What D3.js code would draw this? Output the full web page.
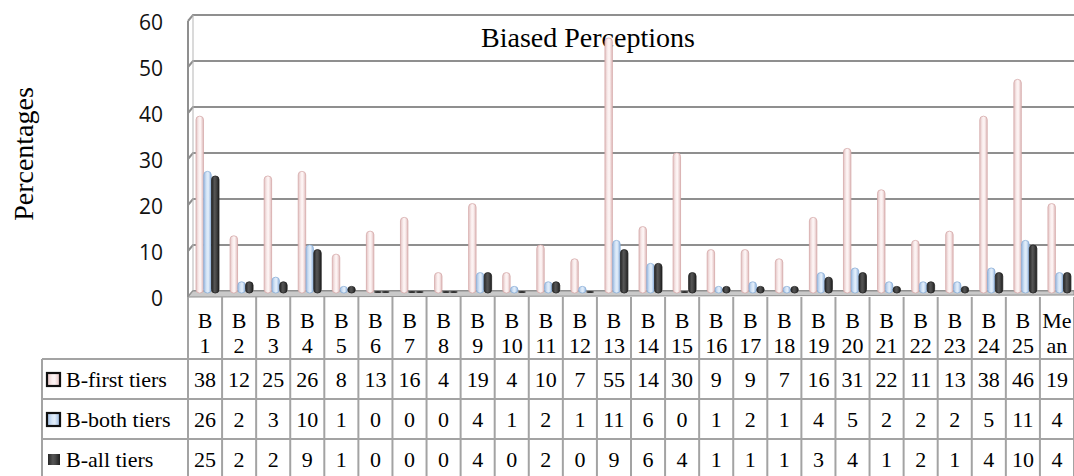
<!DOCTYPE html>
<html>
<head>
<meta charset="utf-8">
<script src="https://cdn.jsdelivr.net/npm/d3@7"></script>
<style>
  body { margin: 0; background: #fff; }
  svg { display: block; }
</style>
</head>
<body>
<svg id="chart"></svg>
<script>
// Biased perceptions - 3D-ish clustered columns with data table underneath

const width = 1074;
const height = 476;

// data
const categories = ["B1","B2","B3","B4","B5","B6","B7","B8","B9","B10","B11","B12","B13",
  "B14","B15","B16","B17","B18","B19","B20","B21","B22","B23","B24","B25","Mean"];
const headerLines = [["B","1"],["B","2"],["B","3"],["B","4"],["B","5"],["B","6"],["B","7"],["B","8"],
  ["B","9"],["B","10"],["B","11"],["B","12"],["B","13"],["B","14"],["B","15"],["B","16"],["B","17"],
  ["B","18"],["B","19"],["B","20"],["B","21"],["B","22"],["B","23"],["B","24"],["B","25"],["Me","an"]];
const seriesNames = ["B-first tiers", "B-both tiers", "B-all tiers"];
const firstTiers = [38,12,25,26,8,13,16,4,19,4,10,7,55,14,30,9,9,7,16,31,22,11,13,38,46,19];
const bothTiers  = [26,2,3,10,1,0,0,0,4,1,2,1,11,6,0,1,2,1,4,5,2,2,2,5,11,4];
const allTiers   = [25,2,2,9,1,0,0,0,4,0,2,0,9,6,4,1,1,1,3,4,1,2,1,4,10,4];
const yTicks = [0,10,20,30,40,50,60];
const series = [firstTiers, bothTiers, allTiers];

const svg = d3.select("#chart")
    .attr("width", width)
    .attr("height", height);

const plotLeft = 188;
const plotRight = 1074;
const depthX = 5, depthY = 6;   // fake 3D offset of the back wall

const x = d3.scaleBand().domain(categories).range([plotLeft, plotRight]);
const xSub = d3.scaleBand().domain(seriesNames).range([8, 31]).paddingInner(0.04);
const y = d3.scaleLinear().domain([0, 60]).range([291, 15]);

const gridColor = "#8f8f8f";
const tableColor = "#a3a3a3";

// gradients for the cylinder-ish bars
const defs = svg.append("defs");
const barStyles = [
  { id: "gPink", stops: ["#e3c3c3", "#fbf0f0", "#fdf4f4", "#e0bcbc"], stroke: "#d6aaaa" },
  { id: "gBlue", stops: ["#9fbde3", "#d8e7f7", "#e3eefa", "#93b4de"], stroke: "#8aaed8" },
  { id: "gDark", stops: ["#262626", "#555555", "#4a4a4a", "#1e1e1e"], stroke: "#222" }
];
barStyles.forEach(s => {
  const g = defs.append("linearGradient").attr("id", s.id)
      .attr("x1", "0%").attr("x2", "100%").attr("y1", "0%").attr("y2", "0%");
  s.stops.forEach((c, i) => {
    g.append("stop").attr("offset", [0, 0.4, 0.6, 1][i]).attr("stop-color", c);
  });
});

// back wall gridlines
yTicks.forEach(t => {
  svg.append("path")
      .attr("d", `M${plotLeft},${y(t) + depthY} L${plotLeft + depthX},${y(t)} L${plotRight},${y(t)}`)
      .attr("fill", "none")
      .attr("stroke", gridColor)
      .attr("stroke-width", 2);
});

// left wall
svg.append("line")
    .attr("x1", plotLeft).attr("x2", plotLeft)
    .attr("y1", y(60) + depthY).attr("y2", y(0) + depthY)
    .attr("stroke", gridColor).attr("stroke-width", 2);
svg.append("line")
    .attr("x1", plotLeft + depthX).attr("x2", plotLeft + depthX)
    .attr("y1", y(60)).attr("y2", y(0))
    .attr("stroke", "#b5b5b5").attr("stroke-width", 1);

// floor
svg.append("path")
    .attr("d", `M${plotLeft},${y(0) + depthY} L${plotLeft + depthX},${y(0)} L${plotRight},${y(0)} L${plotRight},${y(0) + depthY - 2} Z`)
    .attr("fill", "#c9c9c9")
    .attr("stroke", gridColor)
    .attr("stroke-width", 1);

// y tick labels
svg.selectAll(".ytick")
    .data(yTicks)
    .enter()
    .append("text")
    .attr("class", "ytick")
    .attr("x", 163)
    .attr("y", d => y(d) + 7)
    .attr("text-anchor", "end")
    .attr("dominant-baseline", "central")
    .style("font-family", "'Open Sans', sans-serif")
    .style("font-size", "21px")
    .style("fill", "#111")
    .text(d => d);

// axis title
svg.append("text")
    .attr("transform", "translate(23,154) rotate(-90)")
    .attr("text-anchor", "middle")
    .attr("dominant-baseline", "central")
    .style("font-family", "'Liberation Serif', serif")
    .style("font-size", "28px")
    .text("Percentages");

// chart title
svg.append("text")
    .attr("x", 588)
    .attr("y", 47)
    .attr("text-anchor", "middle")
    .style("font-family", "'Liberation Serif', serif")
    .style("font-size", "28px")
    .text("Biased Perceptions");

// bars
const barBase = y(0) + 2;
series.forEach((vals, si) => {
  svg.selectAll(".bar-s" + si)
      .data(vals)
      .enter()
      .append("rect")
      .attr("class", "bar-s" + si)
      .attr("x", (d, i) => x(categories[i]) + xSub(seriesNames[si]))
      .attr("width", xSub.bandwidth())
      .attr("y", d => d > 0 ? y(d) : barBase - 2)
      .attr("height", d => d > 0 ? barBase - y(d) : 2)
      .attr("rx", 3.5)
      .attr("fill", d => d > 0 ? `url(#${barStyles[si].id})` : "#333")
      .attr("stroke", d => d > 0 ? barStyles[si].stroke : "none")
      .attr("stroke-width", 0.8);
});

// data table
const tableTop = 297;
const headBottom = 359;
const rowH = 40;
const legendLeft = 42;
const tableFont = "'Liberation Serif', serif";

// column separators
const colEdges = categories.map(c => x(c)).concat([plotRight]);
svg.selectAll(".col-line")
    .data(colEdges)
    .enter()
    .append("line")
    .attr("class", "col-line")
    .attr("x1", d => d).attr("x2", d => d)
    .attr("y1", tableTop).attr("y2", height)
    .attr("stroke", tableColor).attr("stroke-width", 2);

svg.append("line")
    .attr("x1", legendLeft).attr("x2", legendLeft)
    .attr("y1", headBottom).attr("y2", height)
    .attr("stroke", tableColor).attr("stroke-width", 2);

[0, 1, 2].forEach(r => {
  svg.append("line")
      .attr("x1", legendLeft).attr("x2", plotRight)
      .attr("y1", headBottom + r * rowH).attr("y2", headBottom + r * rowH)
      .attr("stroke", tableColor).attr("stroke-width", 2);
});

// header labels (two lines each)
categories.forEach((c, i) => {
  const cx = x(c) + x.bandwidth() / 2;
  headerLines[i].forEach((ln, k) => {
    svg.append("text")
        .attr("x", cx)
        .attr("y", 328 + k * 25)
        .attr("text-anchor", "middle")
        .style("font-family", tableFont)
        .style("font-size", "22px")
        .text(ln);
  });
});

// value rows
series.forEach((vals, si) => {
  const top = headBottom + si * rowH;
  svg.selectAll(".val-s" + si)
      .data(vals)
      .enter()
      .append("text")
      .attr("class", "val-s" + si)
      .attr("x", (d, i) => x(categories[i]) + x.bandwidth() / 2)
      .attr("y", top + 28)
      .attr("text-anchor", "middle")
      .style("font-family", tableFont)
      .style("font-size", "22px")
      .text(d => d);

  // legend key
  if (si < 2) {
    svg.append("rect")
        .attr("x", 47).attr("y", top + 14)
        .attr("width", 13).attr("height", 13)
        .attr("fill", `url(#${barStyles[si].id})`)
        .attr("stroke", "#111")
        .attr("stroke-width", 2.2);
  } else {
    svg.append("rect")
        .attr("x", 48).attr("y", top + 15)
        .attr("width", 12).attr("height", 11)
        .attr("fill", `url(#${barStyles[si].id})`);
  }

  svg.append("text")
      .attr("x", 66)
      .attr("y", top + 28)
      .style("font-family", tableFont)
      .style("font-size", "22px")
      .text(seriesNames[si]);
});
</script>
</body>
</html>
